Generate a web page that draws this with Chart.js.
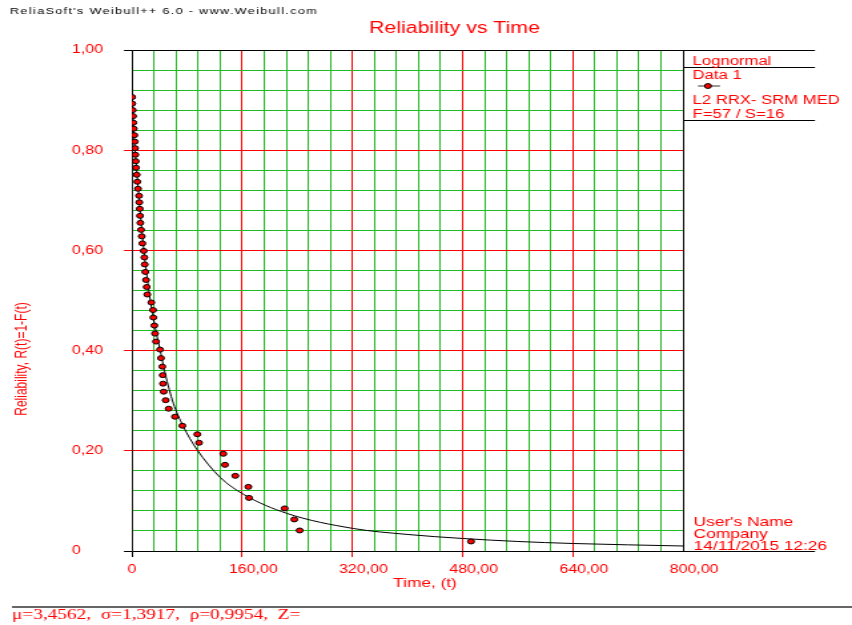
<!DOCTYPE html>
<html>
<head>
<meta charset="utf-8">
<script src="https://cdn.jsdelivr.net/npm/chart.js@4.4.1/dist/chart.umd.min.js"></script>
<style>
html,body{margin:0;padding:0;background:#fff;overflow:hidden}
</style>
</head>
<body>
<canvas id="c" width="640" height="625" style="width:852px;height:625px;display:block"></canvas>
<script>
// failure points (time, reliability)
let failT=[0.2,0.4,1.0,1.5,1.9,2.5,3.3,3.9,4.4,4.8,5.4,5.8,6.8,7.7,8.7,10.2,10.6,11.2,11.6,12.1,
  13.1,14.1,15.0,17.0,17.9,18.4,19.3,20.3,21.3,22.2,28.0,30.5,30.9,32.4,33.4,34.8,40.7,42.1,44.0,44.6,
  45.0,46.0,48.9,53.3,62.4,73.1,94.8,97.3,132.6,135.0,150.0,168.9,169.9,221.7,235.6,243.4,492.2];
let failR=[0.906,0.893,0.880,0.868,0.855,0.843,0.830,0.817,0.804,0.791,0.778,0.765,0.751,0.737,0.723,
  0.709,0.696,0.683,0.669,0.655,0.641,0.628,0.614,0.599,0.586,0.572,0.557,0.541,0.527,0.512,
  0.496,0.481,0.466,0.450,0.434,0.418,0.402,0.385,0.368,0.351,0.334,0.318,0.301,0.284,0.268,
  0.250,0.233,0.216,0.194,0.172,0.150,0.128,0.106,0.085,0.063,0.041,0.019];

// fitted line
let fitT=[0,0.3,1,2.5,5,8,11,14,18,22,26,31,36,41,48,60,74,94,128,162,225,321,400,480,560,640,800];
let fitR=[1.00,0.93,0.89,0.84,0.79,0.74,0.69,0.645,0.59,0.545,0.505,0.465,0.43,0.40,0.355,0.295,0.25,
  0.203,0.147,0.113,0.075,0.045,0.033,0.025,0.019,0.015,0.010];

let xMajor=[0,160,320,480,640,800];
let xLabels=['0','160,00','320,00','480,00','640,00','800,00'];
let yMajor=[0,0.2,0.4,0.6,0.8,1];
let yLabels=['0','0,20','0,40','0,60','0,80','1,00'];

let titleText='Reliability vs Time';
let headerText="ReliaSoft's Weibull++ 6.0 - www.Weibull.com";
let xTitle='Time, (t)';
let yTitle='Reliability, R(t)=1-F(t)';
let panelLines=['Lognormal','Data 1','L2 RRX- SRM MED','F=57 / S=16'];
let userLines=["User's Name",'Company','14/11/2015 12:26'];
let paramText='\u03bc=3,4562,  \u03c3=1,3917,  \u03c1=0,9954,  Z=';

// the picture is stretched sideways, so the canvas is drawn narrow and scaled by css
const sx=852/640;
function cx(px){ return px/sx; }

const RED='#ff0000';
const GREEN='#22bb22';
const SANS='"Liberation Sans", Arial, sans-serif';

function idx(list,v){
  for(let i=0;i<list.length;i++){ if(Math.abs(list[i]-v)<1e-6) return i; }
  return -1;
}

let fitData=fitT.map((t,i)=>({x:t,y:fitR[i]}));
let failData=failT.map((t,i)=>({x:t,y:failR[i]}));

const extras={
  id:'extras',
  beforeDraw(chart){
    const ctx=chart.ctx;
    ctx.save();
    ctx.fillStyle='#fff';
    ctx.fillRect(0,0,chart.width,chart.height);
    ctx.restore();
  },
  afterDraw(chart){
    const ctx=chart.ctx;
    const ca=chart.chartArea;
    const yTop=Math.round(chart.scales.y.getPixelForValue(1))+0.5;
    const yBot=Math.round(chart.scales.y.getPixelForValue(0))+0.5;
    const right=cx(815);
    ctx.save();

    // panel lines
    ctx.strokeStyle='#000';
    ctx.lineWidth=1;
    ctx.beginPath();
    ctx.moveTo(ca.right,yTop); ctx.lineTo(right,yTop);
    ctx.moveTo(ca.right,yBot); ctx.lineTo(right,yBot);
    ctx.moveTo(ca.right,67.5); ctx.lineTo(right,67.5);
    ctx.moveTo(ca.right,120.5); ctx.lineTo(right,120.5);
    ctx.stroke();

    // header
    ctx.fillStyle='#000';
    ctx.font='9.5px '+SANS;
    ctx.letterSpacing='1px';
    ctx.textAlign='left';
    ctx.textBaseline='alphabetic';
    ctx.fillText(headerText,cx(10),14);
    ctx.letterSpacing='0px';

    // title
    ctx.fillStyle=RED;
    ctx.font='16px '+SANS;
    ctx.textAlign='center';
    ctx.fillText(titleText,cx(454.5),32.7);

    // axis titles
    ctx.font='13px '+SANS;
    ctx.textBaseline='middle';
    ctx.fillText(xTitle,cx(425),583);
    ctx.save();
    ctx.translate(cx(22.5),359);
    ctx.rotate(-Math.PI/2);
    ctx.font='12px '+SANS;
    ctx.fillText(yTitle,0,0);
    ctx.restore();

    // legend panel
    ctx.textAlign='left';
    ctx.textBaseline='alphabetic';
    ctx.font='12.5px '+SANS;
    let px=cx(692.7);
    ctx.fillText(panelLines[0],px,65);
    ctx.fillText(panelLines[1],px,78.5);
    ctx.fillText(panelLines[2],px,104);
    ctx.fillText(panelLines[3],px,118);
    ctx.strokeStyle='#333';
    ctx.beginPath();
    ctx.moveTo(cx(698),86); ctx.lineTo(cx(720),86);
    ctx.stroke();
    ctx.beginPath();
    ctx.arc(cx(708),86,2.5,0,Math.PI*2);
    ctx.fillStyle=RED;
    ctx.fill();
    ctx.strokeStyle='#000';
    ctx.stroke();

    // user block
    ctx.fillStyle=RED;
    ctx.font='13px '+SANS;
    ctx.fillText(userLines[0],cx(693.7),525.5);
    ctx.fillText(userLines[1],cx(693.7),537.5);
    ctx.fillText(userLines[2],cx(693.7),549.5);

    // footer
    ctx.strokeStyle='#666';
    ctx.lineWidth=2;
    ctx.beginPath();
    ctx.moveTo(cx(12),607); ctx.lineTo(chart.width,607);
    ctx.stroke();
    ctx.font='14.5px "Liberation Serif", "Times New Roman", serif';
    ctx.textBaseline='middle';
    ctx.fillText(paramText,cx(12),615.5);

    ctx.restore();
  }
};

var ctx=document.getElementById('c').getContext('2d');
var chart=new Chart(ctx,{
  type:'scatter',
  data:{
    datasets:[
      {
        label:'Data 1',
        data:failData,
        showLine:false,
        pointRadius:2.5,
        pointHoverRadius:2.5,
        pointBackgroundColor:RED,
        pointBorderColor:'#000',
        pointBorderWidth:1
      },
      {
        label:'Lognormal',
        data:fitData,
        showLine:true,
        borderColor:'#000',
        borderWidth:1,
        pointRadius:0,
        cubicInterpolationMode:'monotone'
      }
    ]
  },
  options:{
    responsive:false,
    animation:false,
    devicePixelRatio:1,
    layout:{padding:{left:54,top:50,right:640-cx(683),bottom:0}},
    plugins:{legend:{display:false},title:{display:false},tooltip:{enabled:false}},
    scales:{
      x:{
        type:'linear',
        min:0,max:800,
        afterFit(s){ s.height=74; },
        border:{color:'#000',width:1},
        grid:{
          tickLength:6,
          color(c){
            let v=c.tick.value;
            if(v===0||v===800) return '#000';
            return idx(xMajor,v)>=0?RED:GREEN;
          },
          tickColor(c){
            let v=c.tick.value;
            if(v===0) return '#000';
            if(v===800) return 'rgba(0,0,0,0)';
            return idx(xMajor,v)>=0?RED:'rgba(0,0,0,0)';
          }
        },
        ticks:{
          stepSize:32,
          autoSkip:false,
          maxRotation:0,
          minRotation:0,
          padding:5,
          color:RED,
          font:{family:SANS,size:12},
          callback(v){
            let i=idx(xMajor,v);
            if(i<0) return '';
            return i===0?xLabels[i]:'     '+xLabels[i];
          }
        }
      },
      y:{
        type:'linear',
        min:0,max:1,
        afterFit(s){ s.width=cx(132)-54; },
        border:{color:'#222',width:1},
        grid:{
          tickLength:6,
          color(c){
            let v=c.tick.value;
            if(v===0||v===1) return '#000';
            return idx(yMajor,v)>=0?RED:GREEN;
          },
          tickColor(c){
            let v=c.tick.value;
            if(v===0||v===1) return '#000';
            return idx(yMajor,v)>=0?RED:'rgba(0,0,0,0)';
          }
        },
        ticks:{
          stepSize:0.04,
          autoSkip:false,
          crossAlign:'far',
          color:RED,
          font:{family:SANS,size:12},
          callback(v){
            let i=idx(yMajor,v);
            return i<0?'':yLabels[i];
          }
        }
      }
    }
  },
  plugins:[extras]
});
</script>
</body>
</html>
